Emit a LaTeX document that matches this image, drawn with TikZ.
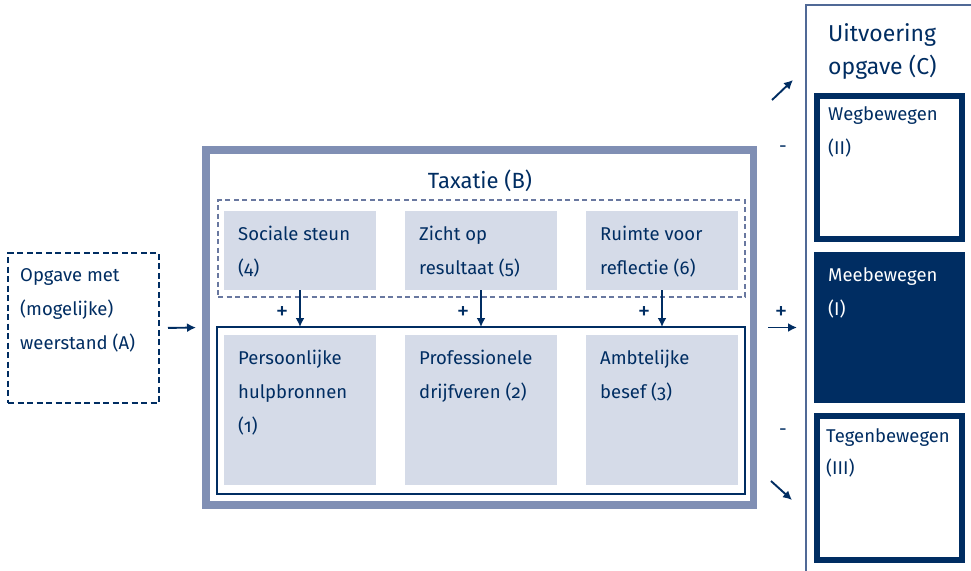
\documentclass[tikz,border=0pt]{standalone}
\usepackage{fontspec}
\setmainfont{Fira Sans}[Numbers=OldStyle]
\usetikzlibrary{arrows.meta}
\definecolor{navy}{RGB}{0,45,98}
\definecolor{boxfill}{RGB}{213,219,232}
\definecolor{frameblue}{RGB}{128,143,180}
\definecolor{dashblue}{RGB}{105,120,160}
\definecolor{cline}{RGB}{80,105,150}
\newcommand{\fs}{\rule{0pt}{15pt}}
\begin{document}
\begin{tikzpicture}[x=1pt,y=-1pt,
  lbl/.style={inner sep=0pt, anchor=north west, align=left, text=navy,
    font=\fontsize{18.5}{34}\selectfont},
  rbox/.style={rectangle, inner sep=0pt, outer sep=0pt, anchor=north west},
  lightbox/.style={rbox, fill=boxfill},
  arr/.style={draw=navy, line width=1.9pt, -{Latex[length=9pt,width=9pt]}},
  sign/.style={text=navy, inner sep=0pt, font=\fontsize{25}{25}\selectfont},
  msign/.style={text=navy, inner sep=0pt, font=\fontsize{19}{19}\selectfont}
]
\useasboundingbox (0,0) rectangle (971,570);
\fill[white] (0,0) rectangle (971,570);

% A
\node[rbox, draw=navy, line width=1.4pt, dash pattern=on 6pt off 3.5pt,
  minimum width=151pt, minimum height=150pt] (A) at (8,253) {};
\node[lbl] (tA) at (20,266) {\fs Opgave met\\(mogelijke)\\weerstand (A)};

% B
\node[rbox, draw=frameblue, line width=7.5pt,
  minimum width=547.5pt, minimum height=355pt] (B) at (206,150) {};
\node[text=navy, inner sep=0pt, anchor=base, font=\fontsize{22}{22}\selectfont] (tB) at (480,188) {Taxatie (B)};

\node[rbox, draw=dashblue, line width=1.2pt, dash pattern=on 5pt off 3.5pt,
  minimum width=527pt, minimum height=97pt] (D) at (218,200) {};
\node[rbox, draw=navy, line width=1.5pt,
  minimum width=528pt, minimum height=167pt] (S) at (217,327) {};

% top boxes
\node[lightbox, minimum width=152pt, minimum height=79pt] (b4) at (224,211) {};
\node[lightbox, minimum width=152pt, minimum height=79pt] (b5) at (405,211) {};
\node[lightbox, minimum width=152pt, minimum height=79pt] (b6) at (586,211) {};
\node[lbl] (t4) at (238,225) {\fs Sociale steun\\(4)};
\node[lbl] (t5) at (419,225) {\fs Zicht op\\resultaat (5)};
\node[lbl] (t6) at (600,225) {\fs Ruimte voor\\reflectie (6)};

% bottom boxes
\node[lightbox, minimum width=152pt, minimum height=150pt] (b1) at (224,335) {};
\node[lightbox, minimum width=152pt, minimum height=150pt] (b2) at (405,335) {};
\node[lightbox, minimum width=152pt, minimum height=150pt] (b3) at (586,335) {};
\node[lbl] (t1) at (238,349) {\fs Persoonlijke\\hulpbronnen\\(1)};
\node[lbl] (t2) at (419,349) {\fs Professionele\\drijfveren (2)};
\node[lbl] (t3) at (600,349) {\fs Ambtelijke\\besef (3)};

% down arrows
\draw[arr] (b4.south) -- (b4.south |- S.north);
\draw[arr] (b5.south) -- (b5.south |- S.north);
\draw[arr] (b6.south) -- (b6.south |- S.north);
\node[sign] (p4) at (282,313) {+};
\node[sign] (p5) at (463,313) {+};
\node[sign] (p6) at (644,313) {+};

% A -> B
\draw[arr, shorten <=9pt, shorten >=6pt] (A.east) -- (B.west -| 202,0);

% C
\draw[cline, line width=1.5pt] (806,580) -- (806,5) -- (985,5);
\node[inner sep=0pt, anchor=north west, align=left, text=navy,
  font=\fontsize{23}{33}\selectfont] (tC) at (828,23) {\rule{0pt}{17pt}Uitvoering\\opgave (C)};

\node[rbox, draw=navy, line width=6pt, minimum width=145pt, minimum height=143pt] (Weg) at (817,96) {};
\node[lbl] (tWeg) at (828,105) {\fs Wegbewegen\\(II)};
\node[rbox, fill=navy, minimum width=151pt, minimum height=151pt] (Mee) at (814,252) {};
\node[lbl, text=white] (tMee) at (828,266) {\fs Meebewegen\\(I)};
\node[rbox, draw=navy, line width=6pt, minimum width=145pt, minimum height=144pt] (Teg) at (817,416) {};
\node[lbl, font=\fontsize{18.5}{32}\selectfont] (tTeg) at (826,427) {\fs Tegenbewegen\\(III)};

% right arrows
\draw[arr, shorten <=14.5pt, shorten >=17pt] (B.east) -- (Mee.west);
\node[sign] (pR) at (781,313) {+};
\coordinate (u1) at (772,100);
\coordinate (u2) at (793,80);
\draw[arr] (u1) -- (u2);
\coordinate (d1) at (771,481);
\coordinate (d2) at (792,500);
\draw[arr] (d1) -- (d2);
\node[msign] (mU) at (783,149) {-};
\node[msign] (mD) at (783,432) {-};
\end{tikzpicture}
\end{document}
